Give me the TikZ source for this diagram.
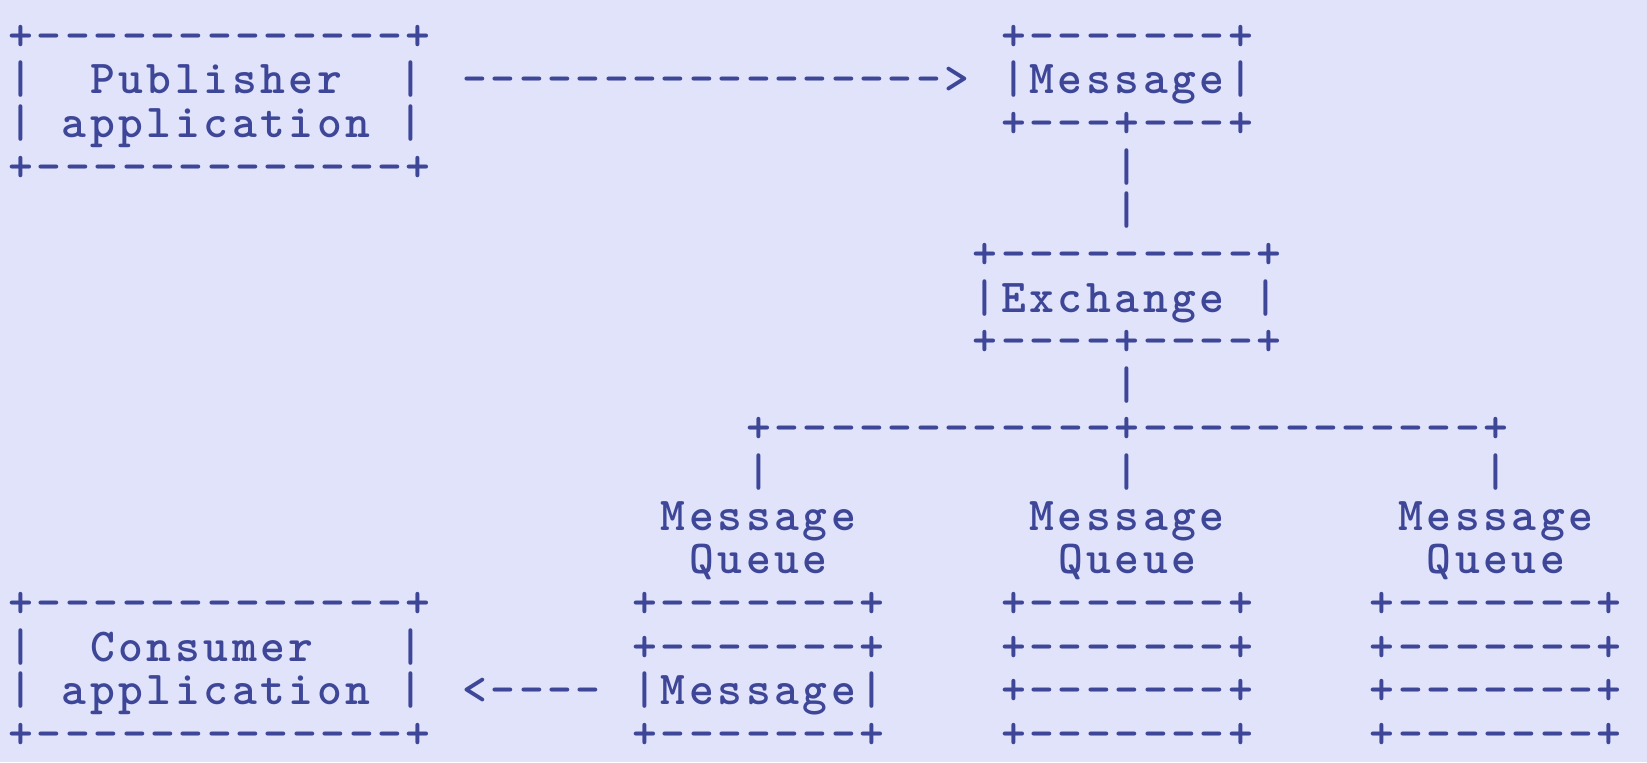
\documentclass[tikz,border=0pt]{standalone}
\usepackage{fontspec}
\setmonofont{lmmono10-regular.otf}[LetterSpace=7.53, BoldFont=lmmonolt10-bold.otf]
\tikzset{
  asc/.style={anchor=base west, inner sep=0pt, outer sep=0pt, xshift=-6.2pt, yshift=-6.6pt,
    font=\fontsize{23.63pt}{21.83pt}\selectfont\ttfamily\bfseries, text=ascblue}
}
\begin{document}
\begin{tikzpicture}[x=14.18pt, y=-21.83pt]
%Define all colours here.
\definecolor{bgfill}{RGB}{225,227,250}
\definecolor{ascblue}{RGB}{62,70,152}
\fill[bgfill] (-0.74,-0.843) rectangle (57.33,16.61);
\useasboundingbox (-0.74,-0.843) rectangle (57.33,16.61);

%Publisher side.
\node(pubtop) at (0,0) [asc] {+-------------+};
\node(pubname) at (0,1) [asc] {|\ \ Publisher\ \ |};
\node(pubapp) at (0,2) [asc] {|\ application\ |};
\node(pubbot) at (0,3) [asc] {+-------------+};
\node(pubarrow) at (16,1) [asc] {----------------->};

%Message sent to the exchange.
\node(msgtop) at (35,0) [asc] {+-------+};
\node(msg) at (35,1) [asc] {|Message|};
\node(msgbot) at (35,2) [asc] {+---+---+};
\node(msglinkA) at (39,3) [asc] {|};
\node(msglinkB) at (39,4) [asc] {|};

\node(exchtop) at (34,5) [asc] {+---------+};
\node(exch) at (34,6) [asc] {|Exchange\ |};
\node(exchbot) at (34,7) [asc] {+----+----+};
\node(exchlink) at (39,8) [asc] {|};

%Fan out to the queues.
\node(fan) at (26,9) [asc] {+------------+------------+};
\node(fanA) at (26,10) [asc] {|};
\node(fanB) at (39,10) [asc] {|};
\node(fanC) at (52,10) [asc] {|};

\node(qnameA) at (23,11) [asc] {Message};
\node(qnameB) at (36,11) [asc] {Message};
\node(qnameC) at (49,11) [asc] {Message};
\node(qwordA) at (24,12) [asc] {Queue};
\node(qwordB) at (37,12) [asc] {Queue};
\node(qwordC) at (50,12) [asc] {Queue};

\node(qA1) at (22,13) [asc] {+-------+};
\node(qA2) at (22,14) [asc] {+-------+};
\node(qAmsg) at (22,15) [asc] {|Message|};
\node(qA4) at (22,16) [asc] {+-------+};

\node(qB1) at (35,13) [asc] {+-------+};
\node(qB2) at (35,14) [asc] {+-------+};
\node(qB3) at (35,15) [asc] {+-------+};
\node(qB4) at (35,16) [asc] {+-------+};

\node(qC1) at (48,13) [asc] {+-------+};
\node(qC2) at (48,14) [asc] {+-------+};
\node(qC3) at (48,15) [asc] {+-------+};
\node(qC4) at (48,16) [asc] {+-------+};

%Consumer side.
\node(contop) at (0,13) [asc] {+-------------+};
\node(conname) at (0,14) [asc] {|\ \ Consumer\ \ \ |};
\node(conapp) at (0,15) [asc] {|\ application\ |};
\node(conbot) at (0,16) [asc] {+-------------+};
\node(conarrow) at (16,15) [asc] {<----};
\end{tikzpicture}
\end{document}
